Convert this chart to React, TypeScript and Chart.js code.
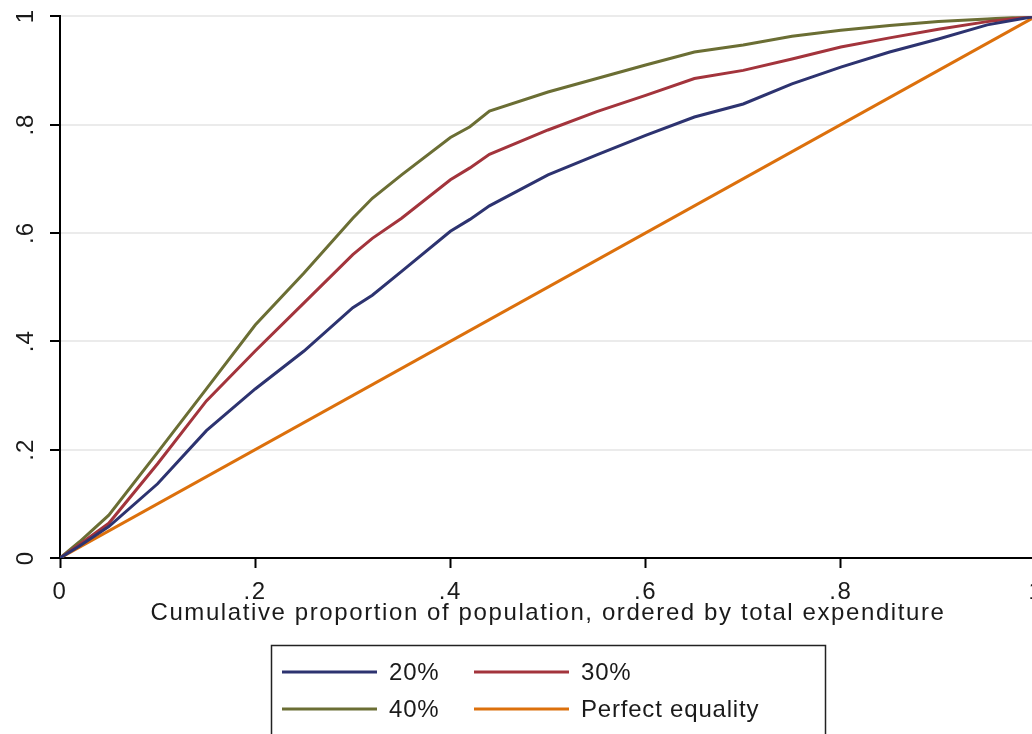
import React, { useEffect, useRef } from "react";
import { Chart, registerables } from "chart.js";
Chart.register(...registerables);

// Cumulative proportion of population (x)
const popShare = [0, 0.02, 0.05, 0.1, 0.15, 0.2, 0.25, 0.3, 0.32, 0.35, 0.4, 0.42, 0.44, 0.5, 0.55, 0.6, 0.65, 0.7, 0.75, 0.8, 0.85, 0.9, 0.95, 1];
// Cumulative share for each curve
const share20 = [0, 0.022, 0.058, 0.137, 0.235, 0.312, 0.382, 0.462, 0.485, 0.529, 0.603, 0.625, 0.65, 0.707, 0.744, 0.78, 0.814, 0.838, 0.875, 0.906, 0.934, 0.958, 0.984, 1];
const share30 = [0, 0.025, 0.064, 0.174, 0.29, 0.382, 0.471, 0.56, 0.59, 0.627, 0.698, 0.72, 0.745, 0.79, 0.824, 0.854, 0.885, 0.9, 0.921, 0.943, 0.96, 0.976, 0.99, 1];
const share40 = [0, 0.03, 0.079, 0.195, 0.312, 0.43, 0.526, 0.627, 0.664, 0.707, 0.776, 0.796, 0.825, 0.86, 0.885, 0.91, 0.934, 0.947, 0.963, 0.974, 0.983, 0.99, 0.995, 1];
const equalityX = [0, 1];
const equalityY = [0, 1];

const seriesLabels = ["20%", "30%", "40%", "Perfect equality"];
const seriesColors = ["#2d3370", "#a3343c", "#6b6e34", "#dc700c"];
const tickValues = [0, 0.2, 0.4, 0.6, 0.8, 1];
const tickLabels = ["0", ".2", ".4", ".6", ".8", "1"];
const xTitle = "Cumulative proportion of population, ordered by total expenditure";

const FONT = "'Liberation Sans', Arial, sans-serif";
const CANVAS_W = 1060;
const CANVAS_H = 734;

const fmt = (v: number) => {
  const i = tickValues.findIndex((t) => Math.abs(t - v) < 1e-6);
  return i >= 0 ? tickLabels[i] : "";
};

const pts = (xs: number[], ys: number[]) => xs.map((x, i) => ({ x, y: ys[i] }));

export default function App() {
  const ref = useRef<HTMLCanvasElement | null>(null);

  useEffect(() => {
    if (!ref.current) return;
    const extras = {
      id: "extras",
      beforeDraw(chart: any) {
        chart.ctx.letterSpacing = "1.6px";
      },
      afterDraw(chart: any) {
        const ctx = chart.ctx as CanvasRenderingContext2D;
        (ctx as any).letterSpacing = "0px";
        // rotated y tick labels
        const ys = chart.scales.y;
        ctx.save();
        ctx.fillStyle = "#1a1a1a";
        ctx.font = `24px ${FONT}`;
        (ctx as any).letterSpacing = "1px";
        ctx.textAlign = "center";
        ctx.textBaseline = "middle";
        ys.ticks.forEach((t: any) => {
          const py = ys.getPixelForValue(t.value);
          ctx.save();
          ctx.translate(26, py);
          ctx.rotate(-Math.PI / 2);
          ctx.fillText(fmt(t.value), 0, 0);
          ctx.restore();
        });
        (ctx as any).letterSpacing = "0px";
        ctx.restore();

        // legend
        const ca = chart.chartArea;
        const cx = (ca.left + ca.right) / 2;
        const boxW = 554;
        const left = Math.round(cx - boxW / 2);
        const top = 645;
        ctx.save();
        ctx.strokeStyle = "#222";
        ctx.lineWidth = 1.5;
        ctx.strokeRect(left + 0.5, top + 0.5, boxW, 120);
        const cols = [11, 203];
        const rows = [672, 709];
        ctx.font = `24px ${FONT}`;
        (ctx as any).letterSpacing = "0.8px";
        ctx.textAlign = "left";
        ctx.textBaseline = "middle";
        chart.data.datasets.forEach((ds: any, i: number) => {
          const col = cols[i % 2];
          const row = rows[Math.floor(i / 2)];
          ctx.strokeStyle = ds.borderColor;
          ctx.lineWidth = 3;
          ctx.beginPath();
          ctx.moveTo(left + col, row);
          ctx.lineTo(left + col + 95, row);
          ctx.stroke();
          ctx.fillStyle = "#1a1a1a";
          ctx.fillText(ds.label, left + col + 107, row + 1);
        });
        (ctx as any).letterSpacing = "0px";
        ctx.restore();
      },
    };

    const mk = (label: string, data: any[], color: string) => ({
      label,
      data,
      borderColor: color,
      backgroundColor: color,
      borderWidth: 3,
      pointRadius: 0,
      tension: 0,
      fill: false,
    });

    const chart = new Chart(ref.current, {
      type: "line",
      data: {
        datasets: [
          mk(seriesLabels[0], pts(popShare, share20), seriesColors[0]),
          mk(seriesLabels[1], pts(popShare, share30), seriesColors[1]),
          mk(seriesLabels[2], pts(popShare, share40), seriesColors[2]),
          mk(seriesLabels[3], pts(equalityX, equalityY), seriesColors[3]),
        ],
      },
      options: {
        animation: false,
        responsive: false,
        maintainAspectRatio: false,
        devicePixelRatio: 1,
        layout: { padding: { left: 0, top: 14, right: CANVAS_W - 1036, bottom: 102 } },
        plugins: { legend: { display: false }, tooltip: { enabled: false }, title: { display: false } },
        scales: {
          x: {
            type: "linear",
            min: 0,
            max: 1,
            ticks: {
              stepSize: 0.2,
              callback: (v: any) => fmt(Number(v)),
              font: { family: FONT, size: 24 },
              color: "#1a1a1a",
              padding: 10,
              maxRotation: 0,
              minRotation: 0,
            },
            grid: { color: "rgba(0,0,0,0)", drawTicks: true, tickLength: 10, tickColor: "#000", tickWidth: 2 },
            border: { display: true, color: "#000", width: 2 },
            title: {
              display: true,
              text: xTitle,
              font: { family: FONT, size: 24 },
              color: "#1a1a1a",
              padding: { top: 0, bottom: 4 },
            },
            afterFit: (s: any) => {
              s.height = 74;
            },
          },
          y: {
            type: "linear",
            min: 0,
            max: 1,
            ticks: {
              stepSize: 0.2,
              callback: (v: any) => fmt(Number(v)),
              font: { family: FONT, size: 22 },
              color: "rgba(0,0,0,0)",
            },
            grid: { color: "#ebebeb", lineWidth: 2, drawTicks: true, tickLength: 10, tickColor: "#000", tickWidth: 2 },
            border: { display: true, color: "#000", width: 2 },
            afterFit: (s: any) => {
              s.width = 60;
            },
          },
        },
      } as any,
      plugins: [extras],
    });
    return () => chart.destroy();
  }, []);

  return (
    <div style={{ position: "fixed", left: 0, top: 0, width: CANVAS_W, height: CANVAS_H, background: "#fff" }}>
      <canvas ref={ref} width={CANVAS_W} height={CANVAS_H} style={{ display: "block" }} />
    </div>
  );
}
